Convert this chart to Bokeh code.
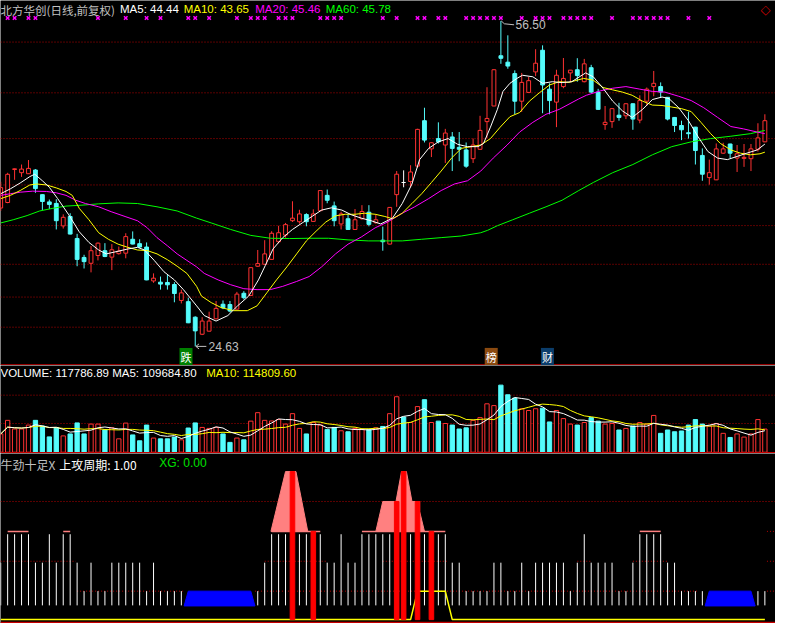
import numpy as np
from bokeh.plotting import figure
from bokeh.layouts import column
from bokeh.models import Range1d, Span, Label
from bokeh.embed import file_html
from bokeh.resources import INLINE

# ---------------- texts ----------------
stock_title = "北方华创(日线,前复权)"
ma_texts = ["MA5: 44.44", "MA10: 43.65", "MA20: 45.46", "MA60: 45.78"]
vol_text_main = "VOLUME: 117786.89 MA5: 109684.80"
vol_text_ma10 = "MA10: 114809.60"
ind_name = "牛劲十足X"
ind_text = "上攻周期: 1.00"
ind_xg = "XG: 0.00"
high_text = "56.50"
low_text = "24.63"
events = ["跌", "榜", "财"]
event_pos = [26.67, 70.61, 78.7]
event_colors = ["#008000", "#8B4A10", "#0B3D6B"]

# ---------------- daily candles (bar index 0..110) ----------------
opens = [38.18, 38.72, 41.95, 41.64, 41.54, 41.90, 39.49, 38.78, 38.63, 36.43,
         37.35, 35.20, 33.34, 32.77, 33.53, 34.00, 33.37, 33.71, 33.76, 35.12,
         34.69, 34.36, 31.04, 30.92, 30.89, 30.69, 29.13, 29.01, 27.49, 25.82,
         26.12, 27.33, 28.76, 28.73, 28.28, 29.83, 29.62, 32.48, 32.67, 33.15,
         34.88, 35.53, 36.94, 36.84, 37.54, 36.87, 37.92, 39.42, 38.39, 36.62,
         37.13, 36.08, 37.13, 37.77, 36.74, 35.03, 34.65, 39.49, 40.68, 40.78,
         42.28, 46.73, 43.97, 44.98, 44.35, 45.14, 44.12, 43.87, 43.01, 43.93,
         46.64, 48.17, 53.09, 52.46, 51.34, 48.64, 49.50, 51.51, 53.63, 49.82,
         48.55, 50.07, 51.41, 51.72, 50.55, 51.92, 49.53, 46.35, 46.64, 47.27,
         47.21, 48.39, 46.79, 48.64, 50.07, 50.07, 49.02, 47.05, 46.26, 45.55,
         46.10, 43.33, 41.16, 40.94, 43.55, 44.45, 43.07, 43.04, 43.01, 43.93, 44.66]
highs = [40.75, 41.63, 42.05, 42.44, 42.88, 41.99, 39.52, 39.01, 39.04, 37.56,
         37.67, 35.65, 33.60, 34.46, 34.81, 34.74, 34.65, 34.41, 35.71, 35.89,
         35.12, 34.81, 31.78, 31.47, 31.62, 30.92, 30.19, 29.40, 27.58, 27.49,
         28.03, 29.08, 29.13, 29.08, 29.97, 30.04, 32.36, 34.07, 35.03, 35.91,
         36.44, 36.72, 38.84, 38.01, 37.67, 38.05, 39.94, 39.99, 38.81, 37.82,
         37.57, 38.08, 38.46, 38.46, 37.56, 36.36, 38.27, 41.80, 41.87, 42.37,
         45.94, 48.00, 44.62, 46.57, 45.93, 45.62, 45.62, 44.60, 44.98, 47.21,
         50.01, 51.77, 56.50, 55.09, 51.66, 51.41, 51.01, 53.73, 54.11, 50.39,
         51.72, 52.87, 51.70, 52.85, 52.78, 52.20, 49.85, 48.17, 47.94, 48.48,
         48.43, 48.42, 49.22, 49.98, 51.60, 50.48, 49.05, 47.08, 46.73, 47.62,
         46.12, 44.02, 42.92, 44.50, 44.57, 44.47, 44.35, 44.45, 44.45, 46.48, 47.36]
lows = [37.89, 38.65, 40.94, 41.23, 41.51, 39.67, 37.99, 38.08, 36.08, 36.17,
        35.60, 32.48, 32.26, 31.88, 33.05, 33.37, 32.10, 33.62, 33.26, 34.62,
        34.27, 31.11, 30.86, 30.19, 30.19, 28.95, 28.84, 26.91, 24.63, 25.74,
        26.10, 27.30, 28.28, 27.97, 28.25, 29.23, 29.59, 32.42, 32.64, 33.12,
        34.72, 35.28, 36.81, 36.65, 36.39, 36.81, 37.89, 38.65, 36.39, 36.08,
        36.05, 36.05, 37.03, 36.39, 36.65, 34.00, 34.62, 38.30, 40.21, 40.21,
        42.12, 44.60, 43.17, 44.50, 42.59, 41.80, 42.76, 42.12, 42.59, 43.90,
        45.05, 48.15, 52.30, 51.82, 47.36, 47.59, 49.44, 51.09, 47.46, 47.36,
        46.10, 49.91, 50.55, 50.55, 50.48, 49.44, 47.81, 45.84, 46.03, 46.73,
        46.89, 45.84, 46.48, 48.17, 49.12, 48.96, 46.76, 45.62, 44.83, 44.98,
        42.44, 40.85, 40.47, 40.91, 43.49, 43.07, 41.71, 42.21, 41.80, 43.71, 44.63]
closes = [40.18, 41.48, 42.02, 41.99, 42.06, 40.08, 38.82, 38.53, 36.94, 37.27,
          35.63, 33.15, 32.93, 34.00, 34.74, 33.43, 34.09, 33.95, 35.38, 34.65,
          34.36, 31.14, 31.31, 30.73, 30.66, 29.81, 29.87, 26.94, 26.15, 27.11,
          27.11, 28.35, 28.41, 28.09, 29.75, 29.40, 32.34, 32.74, 33.69, 35.71,
          35.76, 36.55, 37.19, 37.60, 36.84, 37.60, 39.89, 38.94, 36.94, 37.60,
          36.08, 37.03, 37.84, 36.58, 37.03, 34.88, 38.24, 41.49, 40.68, 41.71,
          45.88, 44.83, 44.57, 44.66, 45.52, 44.02, 43.93, 42.28, 44.35, 45.78,
          46.95, 51.72, 52.84, 52.08, 48.64, 50.48, 50.65, 52.36, 50.23, 48.70,
          51.18, 50.87, 51.68, 51.15, 52.30, 49.53, 47.84, 46.57, 47.91, 47.05,
          48.39, 46.89, 48.70, 49.82, 50.39, 49.53, 46.89, 46.26, 45.84, 45.46,
          43.81, 41.49, 41.64, 43.97, 43.97, 43.55, 43.49, 43.14, 43.97, 45.05, 46.73]
volumes = [93000, 162000, 118000, 118000, 138000, 162000, 133000, 78000, 124000, 83000,
           93000, 149000, 93000, 143000, 143000, 113000, 124000, 68000, 148000, 88000,
           58000, 138000, 72000, 68000, 68000, 77000, 63000, 123000, 149000, 126000,
           121000, 126000, 93000, 50000, 72000, 63000, 158000, 201000, 162000, 159000,
           166000, 143000, 196000, 121000, 93000, 151000, 138000, 116000, 126000, 109000,
           104000, 121000, 116000, 116000, 124000, 131000, 196000, 282000, 179000, 151000,
           232000, 267000, 151000, 158000, 146000, 138000, 118000, 124000, 162000, 176000,
           246000, 237000, 341000, 292000, 275000, 221000, 212000, 221000, 224000, 154000,
           212000, 171000, 143000, 138000, 151000, 176000, 158000, 143000, 146000, 113000,
           121000, 133000, 151000, 143000, 187000, 96000, 113000, 104000, 108000, 138000,
           166000, 143000, 133000, 146000, 96000, 75000, 93000, 77000, 93000, 166000, 117786.89]

# ---------------- price moving averages (bar position, value) ----------------
ma5_k = [0, 1.4, 2.8, 4.2, 4.9, 6.0, 7.0, 8.2, 9.8, 11.3, 12.7, 14.1, 15.2, 16.9, 18.3, 19.7, 20.7,
         22.1, 23.5, 25.0, 26.3, 28.2, 29.3, 31.0, 32.7, 34.1, 35.7, 37.1, 38.1, 39.2, 40.6, 42.0,
         43.4, 44.8, 46.2, 47.6, 49.1, 50.5, 51.9, 53.3, 54.7, 56.4, 57.8, 59.2, 60.3, 61.6, 63.0,
         64.4, 65.8, 67.2, 68.7, 69.5, 70.5, 71.5, 72.3, 73.3, 74.3, 75.1, 76.6, 78.0, 79.4, 80.8,
         82.2, 84.2, 85.3, 86.7, 88.1, 89.5, 90.9, 92.4, 93.8, 95.2, 96.2, 97.6, 99.0, 100.4, 101.8,
         103.2, 104.6, 106.0, 107.4, 108.9, 110.0]
ma5_v = [39.58, 40.06, 40.63, 41.26, 41.49, 40.85, 40.21, 39.10, 37.51, 35.86, 34.81, 34.07, 33.69,
         33.95, 34.17, 34.33, 34.07, 33.05, 31.94, 31.14, 30.19, 28.60, 27.65, 27.11, 27.65, 28.60,
         29.56, 31.14, 32.57, 34.17, 35.28, 36.08, 36.72, 37.35, 37.98, 38.20, 37.98, 37.51, 37.19,
         36.94, 36.62, 37.19, 38.62, 40.53, 42.92, 44.02, 44.66, 44.98, 44.41, 44.19, 44.19, 44.50,
         46.10, 47.84, 49.60, 50.39, 50.87, 51.18, 51.03, 50.39, 50.55, 50.46, 50.55, 51.41, 51.03,
         49.91, 48.64, 47.69, 47.05, 47.84, 48.80, 49.05, 48.89, 48.00, 46.73, 45.14, 43.71, 43.07,
         42.92, 43.23, 43.55, 43.87, 44.44]
ma10_k = [0, 1.4, 2.8, 4.2, 5.2, 6.6, 8.0, 9.4, 10.3, 11.3, 12.7, 14.1, 15.5, 16.9, 18.3, 19.7, 21.1,
          22.5, 24.0, 25.4, 26.8, 28.2, 28.9, 30.3, 31.7, 33.5, 35.5, 36.9, 38.3, 39.7, 41.2, 42.6,
          44.0, 45.4, 46.8, 48.2, 49.6, 51.0, 52.4, 53.9, 55.3, 56.4, 57.8, 59.2, 60.6, 62.0, 63.4,
          64.9, 66.3, 67.7, 69.1, 70.5, 71.9, 73.3, 74.7, 76.1, 77.5, 79.0, 80.4, 81.8, 83.9, 85.3,
          86.7, 88.1, 89.5, 90.9, 92.4, 93.8, 95.2, 96.6, 98.0, 99.4, 100.8, 102.2, 103.6, 105.1,
          106.5, 107.9, 109.3, 110.0]
ma10_v = [39.10, 39.42, 39.89, 40.44, 40.53, 40.44, 40.15, 39.80, 39.42, 38.15, 37.03, 35.76, 35.12,
          34.64, 34.33, 34.07, 34.01, 33.69, 33.12, 32.48, 31.78, 30.51, 29.56, 28.92, 28.44, 28.13,
          28.13, 28.60, 29.87, 31.14, 32.42, 33.69, 34.96, 35.91, 36.81, 37.41, 37.57, 37.57, 37.67,
          37.57, 37.35, 37.13, 37.67, 38.62, 39.58, 40.68, 41.80, 43.07, 44.02, 44.19, 44.35, 44.98,
          46.10, 47.12, 47.53, 48.64, 49.44, 50.23, 50.55, 50.48, 50.87, 50.70, 49.98, 49.75, 49.53,
          49.22, 48.64, 48.26, 48.22, 48.07, 47.91, 47.62, 46.57, 45.46, 44.50, 43.87, 43.55, 43.39,
          43.49, 43.65]
ma20_k = [0, 1.4, 2.8, 4.6, 6.6, 8.0, 9.4, 10.8, 12.2, 14.1, 15.9, 17.9, 19.7, 21.1, 22.5, 24.0,
          25.4, 26.8, 28.2, 29.3, 31.3, 33.1, 35.0, 36.9, 38.8, 40.6, 42.6, 44.4, 46.2, 48.2, 50.0,
          51.9, 53.9, 55.7, 57.8, 59.6, 61.6, 63.4, 65.3, 67.2, 69.1, 70.9, 72.9, 74.7, 76.6, 78.5,
          80.4, 83.2, 84.3, 86.3, 88.1, 90.0, 92.0, 93.8, 95.6, 97.6, 99.4, 101.2, 103.2, 105.1,
          106.9, 108.9, 110.0]
ma20_v = [39.42, 39.58, 39.73, 39.83, 39.80, 39.67, 39.42, 38.94, 38.62, 38.30, 37.82, 37.35, 36.93,
          36.24, 35.28, 34.48, 33.69, 33.05, 32.42, 31.78, 31.14, 30.67, 30.28, 30.19, 30.19, 30.51,
          30.99, 31.47, 32.42, 33.69, 34.64, 35.34, 36.24, 36.81, 37.67, 38.30, 39.10, 39.89, 40.53,
          40.85, 41.80, 43.07, 44.35, 45.62, 46.57, 47.36, 47.84, 48.86, 49.22, 49.65, 49.91, 50.07,
          49.82, 49.60, 49.53, 49.12, 48.70, 48.00, 47.05, 46.16, 45.93, 45.62, 45.46]
ma60_k = [0, 1.8, 3.8, 5.6, 7.5, 9.4, 11.7, 14.1, 16.9, 19.7, 22.5, 25.4, 28.2, 30.3, 33.1, 36.0,
          38.8, 41.6, 44.4, 47.2, 50.0, 52.9, 55.7, 57.8, 60.6, 63.4, 66.3, 69.1, 70.1, 71.5, 73.7,
          76.1, 78.5, 80.8, 83.2, 85.3, 88.1, 91.0, 93.8, 96.6, 99.4, 102.2, 105.1, 107.9, 110.0]
ma60_v = [36.72, 37.03, 37.44, 37.89, 38.15, 38.37, 38.46, 38.59, 38.68, 38.62, 38.30, 37.89, 37.19,
          36.72, 36.08, 35.50, 35.22, 35.19, 35.22, 35.22, 35.06, 34.96, 34.96, 34.96, 35.12, 35.28,
          35.44, 35.76, 36.00, 36.45, 37.03, 37.67, 38.30, 38.94, 39.89, 40.68, 41.64, 42.44, 43.39,
          44.19, 44.66, 44.98, 45.21, 45.46, 45.78]

# bars flagged with magenta crosses along the top
flag_bars = [1, 2, 4, 5, 14, 18, 21, 23, 27, 28, 30, 34, 36, 37, 38, 40, 41, 42, 46, 47, 48, 49, 55,
             57, 60, 61, 63, 64, 67, 68, 69, 70, 71, 72, 75, 77, 78, 79, 81, 82, 83, 84, 85, 88, 91,
             92, 93, 94, 95, 96, 99, 102]
flag_level = 56.78

# price-panel reference lines
price_grid_full = [54.43, 49.46, 44.98, 40.44, 36.46, 32.67]
price_grid_part = [29.46, 26.51]
price_grid_part_end = 40.5

# volume-panel reference lines
vol_grid = [290000, 146000]

# ---------------- indicator panel (牛劲十足X) ----------------
stick_level = [2, 3, 3, 3, 3, 2, 2, 3, 2, 3,
               3, 2, 1, 2, 1, 1, 2, 2, 2, 2,
               2, 1, 2, 1, 1, 1, 1, 0, 0, 0,
               0, 0, 0, 0, 0, 0, 0, 1, 2, 3,
               3, 3, 3, 3, 3, 3, 3, 2, 2, 3,
               2, 2, 3, 3, 3, 3, 3, 3, 3, 3,
               3, 3, 3, 3, 3, 2, 2, 1, 1, 1,
               1, 2, 2, 1, 1, 2, 1, 2, 2, 2,
               2, 2, 1, 2, 3, 2, 2, 2, 2, 1,
               1, 2, 3, 3, 3, 3, 2, 2, 1, 1,
               1, 1, 0, 0, 0, 0, 0, 0, 0, 1, 1]
stick_base = 0.5
cap_runs = [(1, 4), (9, 10), (39, 46), (52, 64), (92, 95)]
cap_level = 3.1
red_bar_idx = [42, 45, 57, 58, 60, 62]
red_bar_top = [5.2, 3.1, 4.15, 5.2, 4.15, 3.1]
pink_k = [[38.9, 41.0, 42.5, 44.2],
          [54.0, 55.0, 56.9, 57.7, 58.4, 59.2, 60.3, 60.3, 61.0]]
pink_v = [[3.1, 5.2, 5.2, 3.1],
          [3.1, 4.15, 4.15, 5.2, 5.2, 4.15, 4.15, 3.8, 3.1]]
blue_runs = [(27, 36), (102, 108)]
blue_low, blue_high = 0.48, 1.0
xg_line = [0] * 60 + [1] * 5 + [0] * 46
ind_grid_full = [4.15]
ind_grid_segments = {2.05: [(-0.03, 10.8), (38, 47), (55, 64.5), (83, 85), (91, 96), (110.3, 111.53)],
                     1.0: [(11, 26.4), (36.6, 100.5), (110.3, 111.53)],
                     3.1: [(110.3, 111.53)]}

# ---------------- styling ----------------
RED = "#FF3232"
CYAN = "#54FCFC"
GRID = "#B40000"
SEP = "#C80000"
BG = "black"
CJK = "Noto Sans CJK SC"
LAT = "Liberation Sans"

REF_W = 791
W = 775
SX = W / REF_W
H1, H2, H3 = 365, 88, 170
XR = (-0.03, 111.53)

idx = np.arange(len(closes))
o, h, l, c = (np.array(a, float) for a in (opens, highs, lows, closes))
vol = np.array(volumes, float)
up = c > o
dn = c < o
eq = ~(up | dn)


def base_fig(height, y0, y1):
    p = figure(width=W, height=height, x_range=Range1d(*XR), y_range=Range1d(y0, y1),
               toolbar_location=None, output_backend="svg", x_axis_location=None,
               y_axis_location=None, background_fill_color=BG, border_fill_color=BG,
               outline_line_color=None, min_border=0)
    p.grid.visible = False
    return p


def hline(p, y, x0, x1, color=GRID, dash="1 2", width=1):
    p.segment(x0=[x0], y0=[y], x1=[x1], y1=[y], line_color=color, line_dash=dash, line_width=width)


def label(p, x, y, text, color, font=LAT, size="12px", **kw):
    p.add_layout(Label(x=x, y=y, x_units="screen", y_units="screen", text=text, text_color=color,
                       text_font=font, text_font_size=size, text_baseline="top", **kw))


# ================= price panel =================
p1 = base_fig(H1, 22.76, 58.50)
for g in price_grid_full:
    hline(p1, g, XR[0], XR[1])
for g in price_grid_part:
    hline(p1, g, XR[0], price_grid_part_end)
p1.add_layout(Span(location=22.81, dimension="width", line_color=SEP, line_width=1.5))

wick_col = np.where(up, RED, np.where(dn, CYAN, "white")).tolist()
p1.segment(x0=idx, y0=l, x1=idx, y1=h, line_color=wick_col, line_width=1)
p1.vbar(x=idx[up], bottom=o[up], top=c[up], width=0.55, fill_color=BG, line_color=RED, line_width=1)
p1.vbar(x=idx[dn], bottom=c[dn], top=o[dn], width=0.55, fill_color=CYAN, line_color=CYAN, line_width=1)
p1.segment(x0=idx[eq] - 0.3, y0=o[eq], x1=idx[eq] + 0.3, y1=c[eq], line_color="white", line_width=1)

p1.line(ma60_k, ma60_v, line_color="#00FF00", line_width=1)
p1.line(ma20_k, ma20_v, line_color="#FF00FF", line_width=1)
p1.line(ma10_k, ma10_v, line_color="#FFFF00", line_width=1)
p1.line(ma5_k, ma5_v, line_color="white", line_width=1)

p1.scatter(flag_bars, [flag_level] * len(flag_bars), marker="x", size=5, line_color="#FF00FF",
           line_width=1.5)

# high / low annotations
ih = int(np.argmax(h))
il = int(np.argmin(l))
p1.line([ih + 0.05, ih + 0.5, ih + 1.9], [h[ih], h[ih] - 0.28, h[ih] - 0.38], line_color="#C0C0C0",
        line_width=1)
p1.add_layout(Label(x=ih, y=h[ih], text=high_text, text_color="#C0C0C0", text_font=LAT,
                    text_font_size="12px", text_baseline="middle", x_offset=15 * SX, y_offset=-4))
p1.segment(x0=[il + 0.1, il + 0.1, il + 0.1], y0=[l[il]] * 3,
           x1=[il + 1.6, il + 0.55, il + 0.55], y1=[l[il], l[il] + 0.25, l[il] - 0.25],
           line_color="#C0C0C0", line_width=1)
p1.add_layout(Label(x=il, y=l[il], text=low_text, text_color="#C0C0C0", text_font=LAT,
                    text_font_size="12px", text_baseline="middle", x_offset=13.6 * SX))

for t, xpos, col in zip(events, event_pos, event_colors):
    p1.add_layout(Label(x=xpos, y=23.60, text=t, text_color="white", text_font=CJK,
                        text_font_size="11px", text_align="center", text_baseline="middle",
                        background_fill_color=col, padding=1))

label(p1, 0, H1 - 1.5, stock_title, "#C0C0C0", font=CJK, size="11.5px")
ma_cols = ["white", "#FFFF00", "#FF00FF", "#00FF00"]
ma_x = [122, 187, 260, 332]
for t, col, xx in zip(ma_texts, ma_cols, ma_x):
    label(p1, xx * SX, H1 - 2, t, col, size="11.5px")
label(p1, W - 15, H1 - 1, "◇", "#C80000", font="DejaVu Sans", size="13px")

# ================= volume panel =================
p2 = base_fig(H2, -6500, 440800)
for g in vol_grid:
    hline(p2, g, XR[0], XR[1])
p2.add_layout(Span(location=-3000, dimension="width", line_color=SEP, line_width=1.5))
vup = c > o
p2.vbar(x=idx[vup], bottom=0, top=vol[vup], width=0.62, fill_color=BG, line_color=RED, line_width=1)
p2.vbar(x=idx[~vup], bottom=0, top=vol[~vup], width=0.62, fill_color=CYAN, line_color=CYAN,
        line_width=1)


def mavg(a, n):
    return np.array([a[max(0, i - n + 1):i + 1].mean() for i in range(len(a))])


p2.line(idx, mavg(vol, 10), line_color="#FFFF00", line_width=1)
p2.line(idx, mavg(vol, 5), line_color="white", line_width=1)
label(p2, 0, H2 - 1.5, vol_text_main, "white", size="11.5px")
label(p2, 210 * SX, H2 - 1.5, vol_text_ma10, "#FFFF00", size="11.5px")

# ================= indicator panel =================
p3 = base_fig(H3, -0.1365, 5.836)
for g in ind_grid_full:
    hline(p3, g, XR[0], XR[1])
for lev, segs in ind_grid_segments.items():
    for a, b in segs:
        hline(p3, lev, a, b)
p3.add_layout(Span(location=-0.102, dimension="width", line_color=SEP, line_width=1.5))

lv = np.array(stick_level, float)
has = lv > 0
p3.segment(x0=idx[has], y0=stick_base, x1=idx[has], y1=lv[has], line_color="white", line_width=1)
p3.segment(x0=[a for a, b in cap_runs], y0=cap_level, x1=[b for a, b in cap_runs], y1=cap_level,
           line_color="#FF8080", line_width=1.5)
p3.patches(pink_k, pink_v, fill_color="#FF8080", line_color="#FF8080", line_width=1)
bx = [[a - 0.6, a, b, b + 0.6] for a, b in blue_runs]
by = [[blue_low, blue_high, blue_high, blue_low] for _ in blue_runs]
p3.patches(bx, by, fill_color="#0000FF", line_color="#0000FF", line_width=1)
p3.line(idx, xg_line, line_color="#FFFF00", line_width=1.5)
p3.vbar(x=red_bar_idx, bottom=0, top=red_bar_top, width=0.66, fill_color="#FF0000",
        line_color="#FF0000")

label(p3, 0, H3 - 2.5, ind_name, "#C0C0C0", font=CJK)
label(p3, 60 * SX, H3 - 2.5, ind_text, "white", font=CJK)
label(p3, 162 * SX, H3 - 2.5, ind_xg, "#00E000")

layout = column(p1, p2, p3, spacing=0)
open("out.html", "w").write(file_html(layout, INLINE, title="北方华创"))
